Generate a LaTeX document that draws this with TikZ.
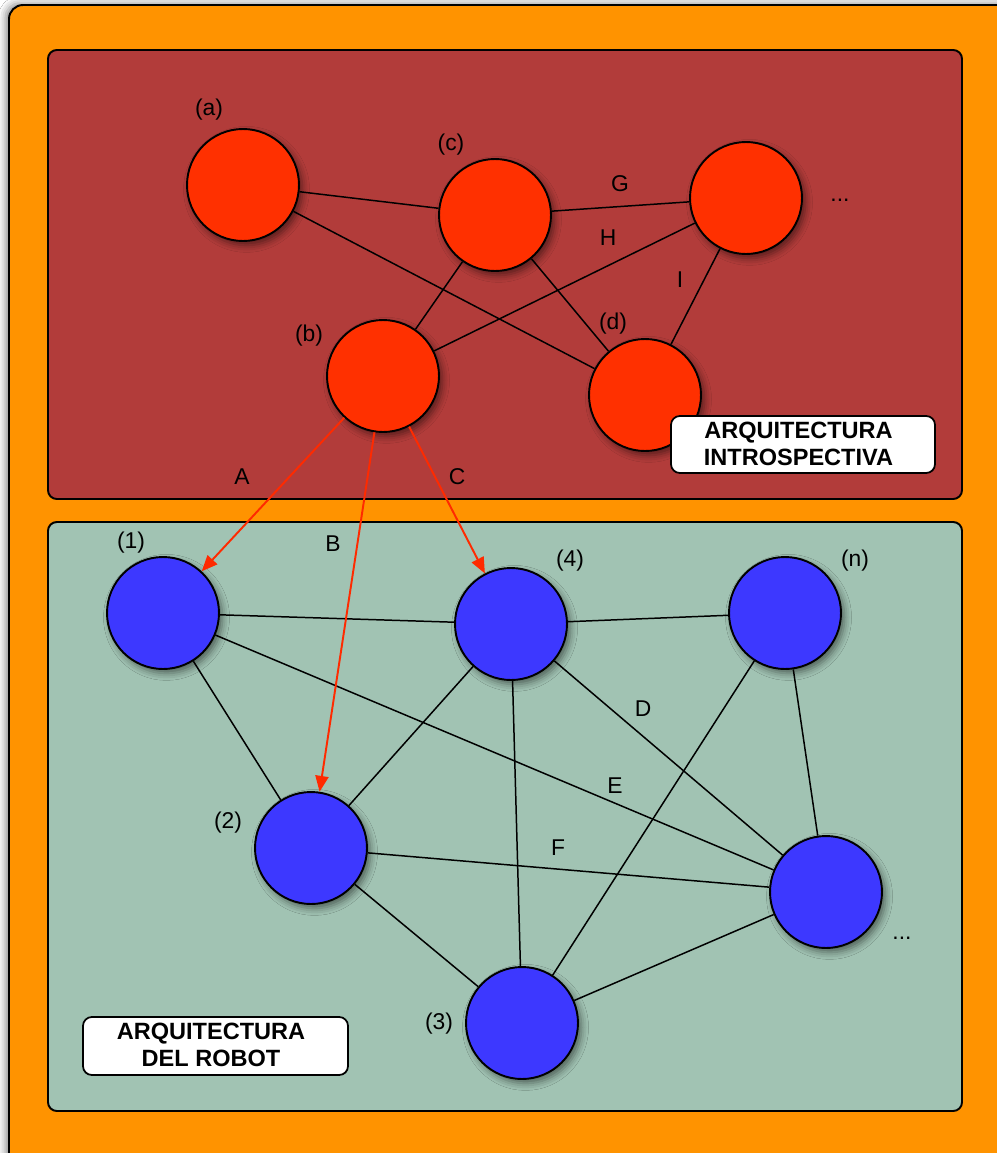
\documentclass[tikz,border=0pt]{standalone}
\usepackage{fontspec}
\setmainfont{Liberation Sans}
\usetikzlibrary{arrows.meta,shadows.blur}
\definecolor{frameorange}{HTML}{FF9300}
\definecolor{panelred}{HTML}{B23C3A}
\definecolor{panelgreen}{HTML}{A1C3B3}
\definecolor{nodered}{HTML}{FF3000}
\definecolor{nodeblue}{HTML}{3D38FF}
\definecolor{linkred}{HTML}{FF2A00}
\tikzset{
  softshadow/.style={blur shadow={shadow xshift=2pt,shadow yshift=-2.5pt,shadow blur radius=4pt,shadow opacity=50}},
  panel/.style={draw=black,line width=1.1pt,rounded corners=5pt},
  agent/.style={circle,draw=black,line width=1.1pt,minimum size=2.24cm,inner sep=0pt,softshadow},
  redagent/.style={agent,fill=nodered},
  blueagent/.style={agent,fill=nodeblue},
  tag/.style={font=\fontsize{13}{15}\selectfont,inner sep=0pt},
  link/.style={draw=black,line width=0.85pt},
  cross/.style={draw=linkred,line width=1.1pt,-{Triangle[length=9pt,width=7.5pt]}},
  caption/.style={draw=black,fill=white,line width=1pt,rounded corners=5pt},
  captiontext/.style={font=\fontsize{13.4}{15.3}\selectfont\bfseries,align=center,inner sep=0pt}
}
\begin{document}
\begin{tikzpicture}[x=0.02cm,y=-0.02cm]
\useasboundingbox (0,0) rectangle (997,1153);
% outer frame
\fill[white] (0,0) rectangle (997,1153);
\path[panel,fill=frameorange,rounded corners=8pt,blur shadow={shadow xshift=-2pt,shadow yshift=1pt,shadow blur radius=4pt,shadow opacity=45}] (9,5) rectangle (1030,1180);
% panels
\path[panel,fill=panelred] (48,50) rectangle (962,499);
\path[panel,fill=panelgreen] (48,522) rectangle (962,1111);

% introspective layer
\node[redagent] (a) at (243,185) {};
\node[redagent] (c) at (495,215) {};
\node[redagent] (e) at (746,198) {};
\node[redagent] (b) at (383,376) {};
\node[redagent] (d) at (645,395) {};

% robot layer
\node[blueagent] (p1) at (163,613) {};
\node[blueagent] (p4) at (511,624) {};
\node[blueagent] (pn) at (785,613) {};
\node[blueagent] (p2) at (311,848) {};
\node[blueagent] (pr) at (826,892) {};
\node[blueagent] (p3) at (522,1023) {};

% introspective links
\draw[link] (a) -- (c);
\draw[link] (a) -- (d);
\draw[link] (c) -- (e);
\draw[link] (c) -- (b);
\draw[link] (c) -- (d);
\draw[link] (b) -- (e);
\draw[link] (d) -- (e);

% robot links
\draw[link] (p1) -- (p4);
\draw[link] (p1) -- (p2);
\draw[link] (p1) -- (pr);
\draw[link] (p4) -- (pn);
\draw[link] (p4) -- (p2);
\draw[link] (p4) -- (p3);
\draw[link] (p4) -- (pr);
\draw[link] (p2) -- (pr);
\draw[link] (p2) -- (p3);
\draw[link] (pn) -- (p3);
\draw[link] (pn) -- (pr);
\draw[link] (p3) -- (pr);

% cross-layer links
\draw[cross] (b) -- (p1);
\draw[cross] (b) -- (p2);
\draw[cross] (b) -- (p4);

% node labels
\node[tag] (la) at (209,110) {(a)};
\node[tag] (lc) at (451,145) {(c)};
\node[tag] (le) at (840,200) {...};
\node[tag] (lb) at (309,336) {(b)};
\node[tag] (ld) at (613,324) {(d)};
\node[tag] (l1) at (131,543) {(1)};
\node[tag] (l4) at (570,561) {(4)};
\node[tag] (ln) at (855,561) {(n)};
\node[tag] (l2) at (228,823) {(2)};
\node[tag] (l3) at (439,1024) {(3)};
\node[tag] (lr) at (902,938) {...};

% link labels
\node[tag] (G) at (620,184) {G};
\node[tag] (H) at (608,238) {H};
\node[tag] (I) at (680,280) {I};
\node[tag] (A) at (242,477) {A};
\node[tag] (B) at (333,544) {B};
\node[tag] (C) at (457,477) {C};
\node[tag] (D) at (643,709) {D};
\node[tag] (E) at (615,786) {E};
\node[tag] (F) at (558,848) {F};

% captions
\node[caption,minimum width=5.28cm,minimum height=1.14cm] (capi) at (803,444.5) {};
\node[captiontext] (capit) at (798.5,444) {ARQUITECTURA\\INTROSPECTIVA};
\node[caption,minimum width=5.3cm,minimum height=1.16cm] (capr) at (215.5,1046) {};
\node[captiontext] (caprt) at (211,1045) {ARQUITECTURA\\DEL ROBOT};
\end{tikzpicture}
\end{document}
